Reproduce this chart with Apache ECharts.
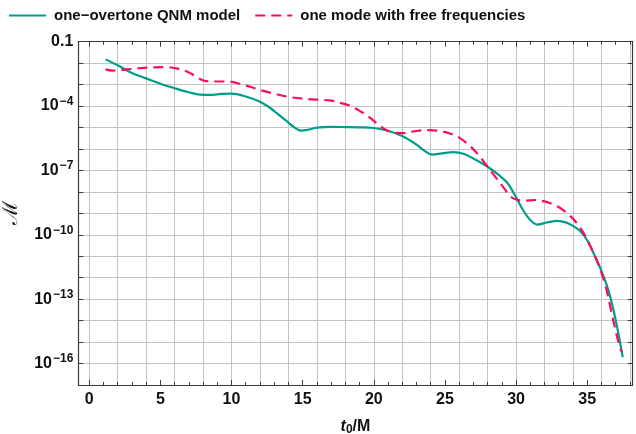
<!DOCTYPE html>
<html>
<head>
<meta charset="utf-8">
<script src="https://cdn.jsdelivr.net/npm/echarts@6/dist/echarts.min.js"></script>
<style>html,body{margin:0;padding:0;background:#fff}#c{width:636px;height:434px}</style>
</head>
<body>
<div id="c"></div>
<script>
// ---- data ----
const seriesNames = ['one\u2212overtone QNM model', 'one mode with free frequencies'];
const qnmT = [1.15, 2.0, 3.0, 4.0, 5.0, 6.0, 7.0, 7.8, 8.5, 9.3, 10.0, 11.0, 12.0, 12.6, 13.2, 13.8, 14.35, 14.9, 15.4, 16.0, 17.0, 18.0, 19.0, 20.0, 21.0, 22.0, 23.0, 23.6, 24.1, 24.8, 25.6, 26.3, 27.0, 28.0, 28.8, 29.4, 30.0, 30.5, 31.0, 31.5, 32.2, 32.9, 33.5, 34.0, 34.5, 35.0, 35.5, 36.0, 36.5, 37.0, 37.5];
const qnmM = [1.5e-2, 7.9e-3, 3.5e-3, 1.95e-3, 1.1e-3, 6.8e-4, 4.4e-4, 3.4e-4, 3.3e-4, 3.7e-4, 3.8e-4, 2.8e-4, 1.6e-4, 9.3e-5, 4.6e-5, 2.2e-5, 1.1e-5, 7.1e-6, 7.9e-6, 9.8e-6, 1.07e-5, 1.05e-5, 1.02e-5, 9.5e-6, 7.1e-6, 4.0e-6, 1.6e-6, 7.9e-7, 5.4e-7, 6.3e-7, 7.2e-7, 6.0e-7, 3.6e-7, 1.48e-7, 6.0e-8, 2.6e-8, 5.6e-9, 1.4e-9, 4.9e-10, 3.0e-10, 3.8e-10, 4.5e-10, 3.8e-10, 2.6e-10, 1.5e-10, 5.6e-11, 1.17e-11, 2.1e-12, 2.5e-13, 1.1e-14, 2.0e-16];
const freeT = [1.15, 1.6, 2.5, 3.5, 4.5, 5.5, 6.2, 6.9, 7.5, 8.1, 9.0, 9.8, 10.6, 11.3, 12.0, 13.0, 13.9, 15.0, 16.0, 17.0, 17.7, 18.3, 19.0, 19.7, 20.3, 20.9, 21.5, 22.1, 23.0, 23.9, 24.6, 25.3, 26.0, 26.7, 27.3, 28.0, 28.6, 29.1, 29.6, 30.0, 30.6, 31.3, 32.0, 32.6, 33.2, 33.8, 34.3, 34.8, 35.3, 35.8, 36.3, 36.8, 37.3, 37.45];
const freeM = [5.1e-3, 4.5e-3, 5.0e-3, 5.8e-3, 6.3e-3, 6.5e-3, 5.6e-3, 4.0e-3, 2.4e-3, 1.5e-3, 1.4e-3, 1.4e-3, 1.07e-3, 7.9e-4, 5.6e-4, 3.8e-4, 2.75e-4, 2.2e-4, 2.0e-4, 1.8e-4, 1.38e-4, 1.05e-4, 6.0e-5, 3.0e-5, 1.4e-5, 7.4e-6, 5.6e-6, 5.5e-6, 6.9e-6, 7.6e-6, 6.9e-6, 5.4e-6, 3.4e-6, 1.5e-6, 5.9e-7, 1.48e-7, 4.5e-8, 1.66e-8, 6.3e-9, 4.4e-9, 3.9e-9, 4.2e-9, 3.6e-9, 2.6e-9, 1.6e-9, 7.6e-10, 3.3e-10, 1.05e-10, 2.3e-11, 4.0e-12, 4.0e-13, 1.26e-14, 5.6e-16, 3.5e-16];
const xTickLabels = [0, 5, 10, 15, 20, 25, 30, 35];
const xMinorTicks = [0,1,2,3,4,5,6,7,8,9,10,11,12,13,14,15,16,17,18,19,20,21,22,23,24,25,26,27,28,29,30,31,32,33,34,35,36,37,38];
const xGridLines = [0,2,4,6,8,10,12,14,16,18,20,22,24,26,28,30,32,34,36,38];
const yTickLabelExps = [-1, -4, -7, -10, -13, -16];
const yDecadeExps = [-17,-16,-15,-14,-13,-12,-11,-10,-9,-8,-7,-6,-5,-4,-3,-2,-1];
const xRange = [-0.77, 38.2];
const yRange = [1e-17, 0.1];

// ---- chart ----
const FONT = '"Liberation Sans", Arial, sans-serif';
const frameColor = '#3a3a3a';
const gridColor = '#c4c4c4';
const teal = '#009E88';
const pink = '#FF0A5E';
const gridPos = {left: 78.3, top: 41.7, right: 3.3, bottom: 49, outerBoundsMode: 'none', containLabel: false};
const yLabelVals = yTickLabelExps.map(e => Math.pow(10, e));
const yDecadeVals = yDecadeExps.map(e => Math.pow(10, e));

function xAx(gi, pos, extra) {
  return Object.assign({
    type: 'value', gridIndex: gi, position: pos, min: xRange[0], max: xRange[1],
    axisLine: {show: false}, axisTick: {show: false}, axisLabel: {show: false}, splitLine: {show: false}
  }, extra);
}
function yAx(gi, pos, extra) {
  return Object.assign({
    type: 'log', logBase: 10, gridIndex: gi, position: pos, min: yRange[0], max: yRange[1],
    axisLine: {show: false}, axisTick: {show: false}, axisLabel: {show: false}, splitLine: {show: false}
  }, extra);
}

const option = {
  animation: false,
  backgroundColor: '#fff',
  textStyle: {fontFamily: FONT},
  legend: {
    left: 3, top: 3, itemWidth: 37, itemHeight: 14, itemGap: 14,
    itemStyle: {opacity: 0},
    textStyle: {fontFamily: FONT, fontSize: 15, fontWeight: 'bold', color: '#111', padding: [0, 0, 0, 3]},
    data: seriesNames
  },
  grid: [
    Object.assign({}, gridPos),
    Object.assign({}, gridPos),
    Object.assign({}, gridPos)
  ],
  xAxis: [
    xAx(0, 'bottom', {
      axisLine: {show: true, onZero: false, lineStyle: {color: frameColor, width: 1.2}},
      axisTick: {show: true, inside: true, length: 5, customValues: xTickLabels, lineStyle: {color: frameColor}},
      axisLabel: {show: true, customValues: xTickLabels, margin: 7, fontFamily: FONT, fontSize: 16, fontWeight: 'bold', color: '#111'},
      name: '{i|t}{s|0}{b|/M}', nameLocation: 'middle', nameGap: 32,
      nameTextStyle: {rich: {
        i: {fontFamily: FONT, fontSize: 16, fontWeight: 'bold', fontStyle: 'italic', color: '#111'},
        s: {fontFamily: FONT, fontSize: 12, fontWeight: 'bold', color: '#111', padding: [7, 0, 0, 0]},
        b: {fontFamily: FONT, fontSize: 16, fontWeight: 'bold', color: '#111'}
      }}
    }),
    xAx(0, 'top', {
      axisLine: {show: true, onZero: false, lineStyle: {color: frameColor, width: 1.2}},
      axisTick: {show: true, inside: true, length: 5, customValues: xTickLabels, lineStyle: {color: frameColor}}
    }),
    xAx(1, 'bottom', {
      axisTick: {show: true, inside: true, length: 3, customValues: xMinorTicks, lineStyle: {color: frameColor}}
    }),
    xAx(1, 'top', {
      axisTick: {show: true, inside: true, length: 3, customValues: xMinorTicks, lineStyle: {color: frameColor}}
    }),
    xAx(2, 'bottom', {
      axisTick: {show: false, customValues: xGridLines},
      splitLine: {show: true, lineStyle: {color: gridColor, width: 1}}
    })
  ],
  yAxis: [
    yAx(0, 'left', {
      axisLine: {show: true, onZero: false, lineStyle: {color: frameColor, width: 1.2}},
      axisTick: {show: true, inside: true, length: 5, customValues: yDecadeVals, lineStyle: {color: frameColor}},
      axisLabel: {show: true, customValues: yLabelVals, margin: 5, color: '#111',
        formatter: function (v) {
          const e = Math.round(Math.log10(v));
          if (e === -1) return '{b|0.1}';
          return '{b|10}{s|\u2212' + (-e) + '}';
        },
        rich: {
          b: {fontFamily: FONT, fontSize: 16, fontWeight: 'bold', color: '#111'},
          s: {fontFamily: FONT, fontSize: 12, fontWeight: 'bold', color: '#111', padding: [0, 0, 9, 1]}
        }
      },
      splitLine: {show: true, lineStyle: {color: gridColor, width: 1}},
      name: '\u2133', nameLocation: 'middle', nameGap: 56,
      nameTextStyle: {fontFamily: '"DejaVu Serif", serif', fontSize: 21, color: '#111'}
    }),
    yAx(0, 'right', {
      axisLine: {show: true, onZero: false, lineStyle: {color: frameColor, width: 1.2}},
      axisTick: {show: true, inside: true, length: 5, customValues: yDecadeVals, lineStyle: {color: frameColor}}
    }),
    yAx(1, 'left', {}),
    yAx(2, 'left', {})
  ],
  series: [
    {
      name: seriesNames[0], type: 'line', xAxisIndex: 0, yAxisIndex: 0,
      data: qnmT.map((t, i) => [t, qnmM[i]]),
      symbol: 'none', smooth: 0.35, z: 3,
      lineStyle: {color: teal, width: 2.2},
      itemStyle: {color: teal}
    },
    {
      name: seriesNames[1], type: 'line', xAxisIndex: 0, yAxisIndex: 0,
      data: freeT.map((t, i) => [t, freeM[i]]),
      symbol: 'none', smooth: 0.35, z: 4,
      lineStyle: {color: pink, width: 2.2, type: [10, 6]},
      itemStyle: {color: pink}
    }
  ]
};
const chart = echarts.init(document.getElementById('c'), null, {renderer: 'canvas'});
chart.setOption(option);
</script>
</body>
</html>
